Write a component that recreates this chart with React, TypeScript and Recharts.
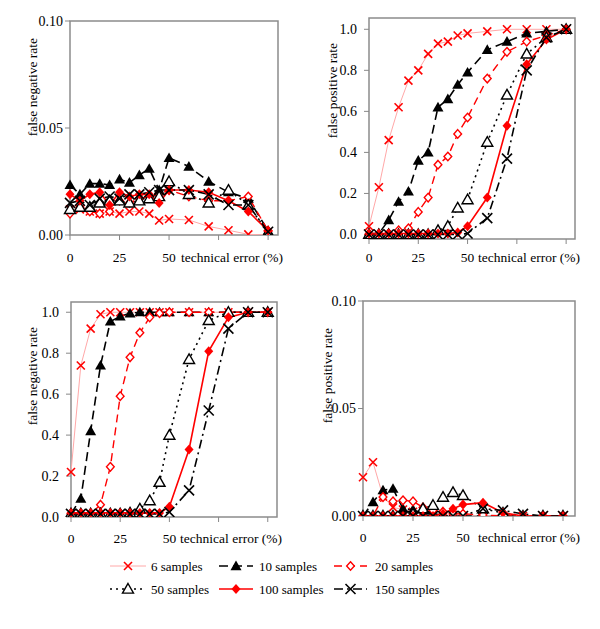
import { LineChart, Line, XAxis, YAxis, ReferenceArea, Label } from 'recharts'

const serif = 'Liberation Serif, DejaVu Serif, serif'

// technical error (%) at which every series was measured
const xValues = [0, 5, 10, 15, 20, 25, 30, 35, 40, 45, 50, 60, 70, 80, 90, 100]
const xTicks = [0, 25, 50, 75, 100]

// top left: false negative rate
const fnTop6 = [0.012, 0.012, 0.011, 0.01, 0.011, 0.01, 0.011, 0.011, 0.01, 0.0068, 0.0075, 0.007, 0.004, 0.0022, 0.0003, 0]
const fnTop10 = [0.0234, 0.019, 0.024, 0.024, 0.0234, 0.026, 0.0245, 0.028, 0.031, 0.021, 0.036, 0.032, 0.025, 0.02, 0.017, 0.002]
const fnTop20 = [0.01, 0.013, 0.011, 0.01, 0.011, 0.016, 0.015, 0.017, 0.018, 0.019, 0.021, 0.018, 0.016, 0.016, 0.018, 0.002]
const fnTop50 = [0.012, 0.013, 0.013, 0.015, 0.016, 0.016, 0.015, 0.016, 0.017, 0.018, 0.025, 0.019, 0.015, 0.021, 0.014, 0.001]
const fnTop100 = [0.019, 0.016, 0.019, 0.02, 0.014, 0.02, 0.018, 0.019, 0.019, 0.015, 0.021, 0.021, 0.02, 0.016, 0.011, 0.002]
const fnTop150 = [0.015, 0.016, 0.014, 0.017, 0.018, 0.017, 0.019, 0.019, 0.02, 0.021, 0.021, 0.021, 0.019, 0.014, 0.014, 0.0015]

// top right: false positive rate
const fpTop6 = [0.04, 0.23, 0.46, 0.62, 0.75, 0.8, 0.88, 0.93, 0.94, 0.97, 0.98, 0.99, 1, 1, 1, 1]
const fpTop10 = [0.005, 0.005, 0.07, 0.16, 0.21, 0.36, 0.4, 0.62, 0.66, 0.73, 0.79, 0.9, 0.94, 0.98, 0.99, 1]
const fpTop20 = [0, 0, 0.005, 0.02, 0.03, 0.11, 0.18, 0.34, 0.38, 0.49, 0.57, 0.76, 0.89, 0.94, 0.97, 1]
const fpTop50 = [0, 0, 0, 0, 0, 0, 0, 0.02, 0.04, 0.13, 0.17, 0.45, 0.68, 0.88, 0.96, 1]
const fpTop100 = [0.005, 0.005, 0.005, 0.005, 0.005, 0.005, 0.005, 0.005, 0.005, 0.01, 0.04, 0.18, 0.53, 0.83, 0.95, 1]
const fpTop150 = [0, 0, 0, 0, 0, 0, 0, 0, 0, 0, 0.005, 0.08, 0.37, 0.8, 0.96, 1]

// bottom left: false negative rate
const fnBottom6 = [0.22, 0.74, 0.92, 0.99, 1, 1, 1, 1, 1, 1, 1, 1, 1, 1, 1, 1]
const fnBottom10 = [0.016, 0.09, 0.42, 0.74, 0.955, 0.98, 0.995, 1, 1, 1, 1, 1, 1, 1, 1, 1]
const fnBottom20 = [0.016, 0.016, 0.016, 0.06, 0.245, 0.59, 0.78, 0.9, 0.975, 0.995, 1, 1, 1, 1, 1, 1]
const fnBottom50 = [0.016, 0.016, 0.016, 0.016, 0.016, 0.016, 0.02, 0.04, 0.08, 0.17, 0.4, 0.77, 0.96, 1, 1, 1]
const fnBottom100 = [0.02, 0.02, 0.02, 0.02, 0.02, 0.02, 0.02, 0.02, 0.02, 0.02, 0.05, 0.33, 0.81, 0.975, 1, 1]
const fnBottom150 = [0.015, 0.015, 0.015, 0.015, 0.015, 0.015, 0.015, 0.015, 0.015, 0.015, 0.024, 0.13, 0.52, 0.92, 1, 1]

// bottom right: false positive rate
const fpBottom6 = [0.018, 0.025, 0.009, 0.004, 0.003, 0.002, 0.001, 0.001, 0.0005, 0.0005, 0, 0, 0, 0, 0, 0]
const fpBottom10 = [0, 0.0065, 0.012, 0.0127, 0.0034, 0.003, 0.001, 0.001, 0.0005, 0, 0, 0, 0, 0, 0, 0]
const fpBottom20 = [0, 0, 0.0088, 0.0068, 0.0073, 0.0068, 0.004, 0.0026, 0.002, 0.001, 0.001, 0.0005, 0, 0, 0, 0]
const fpBottom50 = [0, 0, 0, 0, 0, 0.001, 0.0034, 0.005, 0.0088, 0.011, 0.0096, 0.0034, 0.0014, 0, 0, 0]
const fpBottom100 = [0, 0, 0, 0, 0, 0, 0, 0, 0.001, 0.0034, 0.0053, 0.0062, 0.0015, 0, 0, 0]
const fpBottom150 = [0, 0, 0, 0, 0, 0, 0, 0, 0, 0, 0, 0.0034, 0.0026, 0.001, 0, 0]

const series = [
  { key: 's6', name: '6 samples', stroke: '#ffa8a8', width: 1, dash: undefined, marker: 'cross', color: '#ff0000', size: 4 },
  { key: 's10', name: '10 samples', stroke: '#000', width: 1.6, dash: '9 5', marker: 'triFill', color: '#000', size: 5.5 },
  { key: 's20', name: '20 samples', stroke: '#ff0000', width: 1.4, dash: '8 5', marker: 'diaOpen', color: '#ff0000', size: 4.3 },
  { key: 's50', name: '50 samples', stroke: '#000', width: 1.6, dash: '2 4', marker: 'triOpen', color: '#000', size: 5.5 },
  { key: 's100', name: '100 samples', stroke: '#ff0000', width: 1.6, dash: undefined, marker: 'diaFill', color: '#ff0000', size: 5 },
  { key: 's150', name: '150 samples', stroke: '#000', width: 1.6, dash: '9 4 2 4', marker: 'cross', color: '#000', size: 5 },
]

const buildRows = (cols: number[][]) =>
  xValues.map((x, i) => {
    const row: any = { x }
    series.forEach((s, k) => (row[s.key] = cols[k][i]))
    return row
  })

function Marker({ kind, color, size, cx, cy }: any) {
  if (cx == null || cy == null) return null
  const r = size
  if (kind === 'cross') {
    return (
      <g>
        <line x1={cx - r} y1={cy - r} x2={cx + r} y2={cy + r} stroke={color} strokeWidth={1.6} />
        <line x1={cx - r} y1={cy + r} x2={cx + r} y2={cy - r} stroke={color} strokeWidth={1.6} />
      </g>
    )
  }
  if (kind === 'triFill' || kind === 'triOpen') {
    const pts = `${cx},${cy - r} ${cx + r},${cy + r * 0.75} ${cx - r},${cy + r * 0.75}`
    return kind === 'triFill'
      ? <polygon points={pts} fill={color} />
      : <polygon points={pts} fill="#fff" stroke={color} strokeWidth={1.4} />
  }
  const pts = `${cx},${cy - r} ${cx + r * 0.9},${cy} ${cx},${cy + r} ${cx - r * 0.9},${cy}`
  return kind === 'diaFill'
    ? <polygon points={pts} fill={color} />
    : <polygon points={pts} fill="#fff" stroke={color} strokeWidth={1.4} />
}

function Panel({ left, top, margin, rows, yDomain, yTicks, digits, yLabel, labelX, labelTop, xMax, xTickMargin, yTickMargin }: any) {
  return (
    <div style={{ position: 'absolute', left, top }}>
      <LineChart width={300} height={270} data={rows} margin={margin}>
        <XAxis
          dataKey="x"
          type="number"
          domain={[0, xMax]}
          ticks={xTicks}
          tickFormatter={(v) => (v <= 50 ? String(v) : '')}
          axisLine={false}
          tickLine={{ stroke: '#888' }}
          tickSize={5}
          tickMargin={xTickMargin}
          tick={{ fill: '#000', fontSize: 13.5, style: { fontFamily: serif } }}
          height={30}
        >
          <Label
            content={({ viewBox }: any) => (
              <text
                x={viewBox.x + viewBox.width + 5}
                y={viewBox.y + 5 + xTickMargin + 9.5}
                textAnchor="end"
                fontSize={13.5}
                style={{ fontFamily: serif }}
                fill="#000"
              >
                technical error (%)
              </text>
            )}
          />
        </XAxis>
        <YAxis
          type="number"
          domain={yDomain}
          ticks={yTicks}
          allowDataOverflow
          tickFormatter={(v) => v.toFixed(digits)}
          axisLine={false}
          tickLine={{ stroke: '#888' }}
          tickSize={5}
          tickMargin={yTickMargin}
          tick={{ fill: '#000', fontSize: 14, style: { fontFamily: serif } }}
          width={40}
        >
          <Label
            content={() => (
              <text
                x={labelX}
                y={labelTop}
                textAnchor="end"
                dominantBaseline="central"
                transform={`rotate(-90, ${labelX}, ${labelTop})`}
                fontSize={13.5}
                style={{ fontFamily: serif }}
                fill="#000"
              >
                {yLabel}
              </text>
            )}
          />
        </YAxis>
        <ReferenceArea x1={0} x2={xMax} y1={yDomain[0]} y2={yDomain[1]} fill="none" stroke="#8c8c8c" strokeWidth={1.5} />
        {series.map((s) => (
          <Line
            key={s.key}
            dataKey={s.key}
            type="linear"
            stroke={s.stroke}
            strokeWidth={s.width}
            strokeDasharray={s.dash}
            isAnimationActive={false}
            activeDot={false}
            dot={(p: any) => <Marker key={`${s.key}-${p.index}`} kind={s.marker} color={s.color} size={s.size} cx={p.cx} cy={p.cy} />}
          />
        ))}
      </LineChart>
    </div>
  )
}

function LegendBox() {
  const cols = [
    { x0: 110, x1: 146, tx: 151 },
    { x0: 219, x1: 253, tx: 259 },
    { x0: 334, x1: 367, tx: 375 },
  ]
  return (
    <svg width={600} height={79} style={{ position: 'absolute', left: 0, top: 550 }}>
      {series.map((s, i) => {
        const c = cols[i % 3]
        const y = i < 3 ? 16 : 39
        return (
          <g key={s.key}>
            <line x1={c.x0} y1={y} x2={c.x1} y2={y} stroke={s.stroke} strokeWidth={s.width} strokeDasharray={s.dash} />
            <Marker kind={s.marker} color={s.color} size={s.size} cx={(c.x0 + c.x1) / 2} cy={y} />
            <text x={c.tx} y={y} dominantBaseline="central" fontSize={13} style={{ fontFamily: serif }} fill="#000">
              {s.name}
            </text>
          </g>
        )
      })}
    </svg>
  )
}

export default function App() {
  const small = [0, 0.05, 0.1]
  const unit = [0, 0.2, 0.4, 0.6, 0.8, 1]
  return (
    <div style={{ position: 'absolute', left: 0, top: 0, width: 600, height: 629, background: '#fff', fontFamily: serif }}>
      <Panel
        left={0}
        top={0}
        margin={{ top: 21, right: 22, bottom: 5, left: 30 }}
        rows={buildRows([fnTop6, fnTop10, fnTop20, fnTop50, fnTop100, fnTop150])}
        yDomain={[0, 0.1]}
        yTicks={small}
        digits={2}
        yLabel="false negative rate"
        labelX={32}
        labelTop={38}
        xMax={105}
        xTickMargin={12}
        yTickMargin={2}
      />
      <Panel
        left={300}
        top={0}
        margin={{ top: 18, right: 25, bottom: 1, left: 29 }}
        rows={buildRows([fpTop6, fpTop10, fpTop20, fpTop50, fpTop100, fpTop150])}
        yDomain={[-0.022, 1.055]}
        yTicks={unit}
        digits={1}
        yLabel="false positive rate"
        labelX={32}
        labelTop={43}
        xMax={104.5}
        xTickMargin={8}
        yTickMargin={7}
      />
      <Panel
        left={0}
        top={280}
        margin={{ top: 22, right: 23, bottom: 3, left: 31 }}
        rows={buildRows([fnBottom6, fnBottom10, fnBottom20, fnBottom50, fnBottom100, fnBottom150])}
        yDomain={[0, 1.05]}
        yTicks={unit}
        digits={1}
        yLabel="false negative rate"
        labelX={32}
        labelTop={47}
        xMax={104.7}
        xTickMargin={11}
        yTickMargin={7}
      />
      <Panel
        left={300}
        top={280}
        margin={{ top: 21, right: 25, bottom: 4, left: 23 }}
        rows={buildRows([fpBottom6, fpBottom10, fpBottom20, fpBottom50, fpBottom100, fpBottom150])}
        yDomain={[0, 0.1]}
        yTicks={small}
        digits={2}
        yLabel="false positive rate"
        labelX={27}
        labelTop={48}
        xMax={106}
        xTickMargin={11}
        yTickMargin={2}
      />
      <LegendBox />
    </div>
  )
}
